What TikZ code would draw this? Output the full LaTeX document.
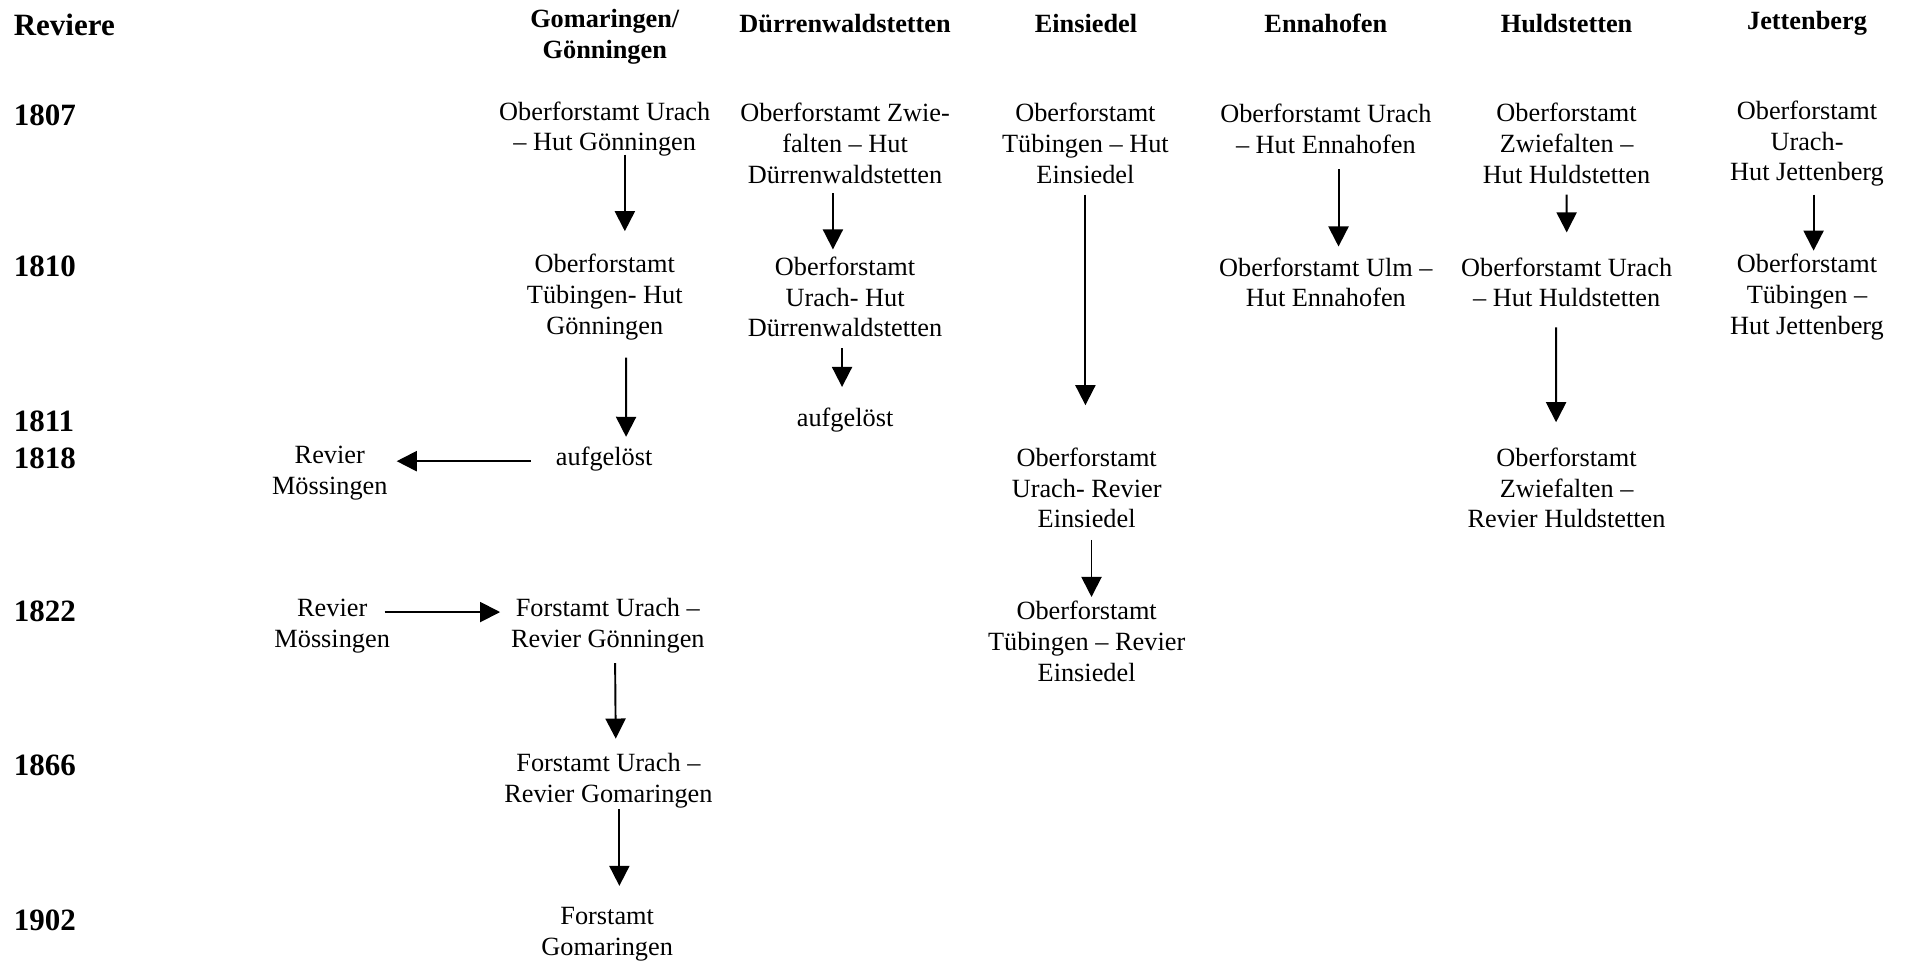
\documentclass[tikz,border=0pt]{standalone}
\usepackage{fontspec}
\setmainfont{Liberation Serif}
\usetikzlibrary{arrows.meta}

\begin{document}
\begin{tikzpicture}[x=0.2mm,y=-0.2mm,
  box/.style={align=center,inner sep=0pt,font=\fontsize{12.3}{14.4}\selectfont},
  head/.style={box,font=\fontsize{12.3}{14.4}\selectfont\bfseries},
  year/.style={anchor=west,inner sep=0pt,font=\fontsize{14.5}{17}\selectfont\bfseries},
  arr/.style={-{Triangle[length=3.3mm,width=3.3mm]},line width=0.9pt}]
\useasboundingbox (0,0) rectangle (1568,791);
% Header
\node[year] (hrev) at (11,20.5) {Reviere};
\node[head] (hgom) at (497,30) {Gomaringen/\\Gönningen};
\node[head] (hdue) at (694.5,19) {Dürrenwaldstetten};
\node[head] (hein) at (892.5,19) {Einsiedel};
\node[head] (henn) at (1089.6,19) {Ennahofen};
\node[head] (hhul) at (1287.4,19) {Huldstetten};
\node[head] (hjet) at (1485,19) {Jettenberg};
% Years
\foreach \y/\yr in {94.5/1807, 219/1810, 346.5/1811, 377/1818, 502/1822, 629/1866, 756/1902} {
    \node[year] (y\yr) at (11,\y) {\yr};
}
% Gomaringen/Gönningen
\node[box] (g1) at (497,106) {Oberforstamt Urach\\– Hut Gönningen};
\node[box] (g2) at (497,244) {Oberforstamt\\Tübingen- Hut\\Gönningen};
\node[box] (g3) at (496.5,377) {aufgelöst};
\node[box] (m1) at (271,389) {Revier\\Mössingen};
\node[box] (m2) at (273,514.5) {Revier\\Mössingen};
\node[box] (g4) at (499.5,514.5) {Forstamt Urach –\\Revier Gönningen};
\node[box] (g5) at (500,641.5) {Forstamt Urach –\\Revier Gomaringen};
\node[box] (g6) at (499,768) {Forstamt\\Gomaringen};
% Dürrenwaldstetten
\node[box] (d1) at (694.5,118) {Oberforstamt Zwie-\\falten – Hut\\Dürrenwaldstetten};
\node[box] (d2) at (694.5,244) {Oberforstamt\\Urach- Hut\\Dürrenwaldstetten};
\node[box] (d3) at (694.5,345) {aufgelöst};
% Einsiedel
\node[box] (e1) at (892,118) {Oberforstamt\\Tübingen – Hut\\Einsiedel};
\node[box] (e2) at (893,401) {Oberforstamt\\Urach- Revier\\Einsiedel};
\node[box] (e3) at (893,527) {Oberforstamt\\Tübingen – Revier\\Einsiedel};
% Ennahofen
\node[box] (n1) at (1089.6,106) {Oberforstamt Urach\\– Hut Ennahofen};
\node[box] (n2) at (1089.6,232) {Oberforstamt Ulm –\\Hut Ennahofen};
% Huldstetten
\node[box] (h1) at (1287.4,118) {Oberforstamt\\Zwiefalten –\\Hut Huldstetten};
\node[box] (h2) at (1287.5,232) {Oberforstamt Urach\\– Hut Huldstetten};
\node[box] (h3) at (1287.4,401) {Oberforstamt\\Zwiefalten –\\Revier Huldstetten};
% Jettenberg
\node[box] (j1) at (1485,118) {Oberforstamt\\Urach-\\Hut Jettenberg};
\node[box] (j2) at (1485,244) {Oberforstamt\\Tübingen –\\Hut Jettenberg};
% Arrows
\draw[arr] ([shift={(16.5,21)}]g1.center) -- ([shift={(16.5,-54)}]g2.center);
\draw[arr] ([shift={(17.6,50)}]g2.center) -- ([shift={(18,-18)}]g3.center);
\draw[arr] ([shift={(-60.5,2)}]g3.center) -- ([shift={(55,-10)}]m1.center);
\draw[arr] ([shift={(43,-11.5)}]m2.center) -- ([shift={(-88.5,-11.5)}]g4.center);
\draw[arr] ([shift={(6,30.5)}]g4.center) -- ([shift={(6,-34.5)}]g5.center);
\draw[arr] ([shift={(9,23.5)}]g5.center) -- ([shift={(10,-40)}]g6.center);
\draw[arr] ([shift={(-10,41)}]d1.center) -- ([shift={(-10,-39)}]d2.center);
\draw[arr] ([shift={(-2.5,42)}]d2.center) -- ([shift={(-2.5,-27)}]d3.center);
\draw[arr] ([shift={(0,42)}]e1.center) -- ([shift={(-1,-68)}]e2.center);
\draw[arr] ([shift={(4,42.6)}]e2.center) -- ([shift={(4,-36.4)}]e3.center);
\draw[arr] ([shift={(10.4,33)}]n1.center) -- ([shift={(10.4,-29.4)}]n2.center);
\draw[arr] ([shift={(0,42)}]h1.center) -- ([shift={(0,-41)}]h2.center);
\draw[arr] ([shift={(-8.7,37)}]h2.center) -- ([shift={(-8.6,-54)}]h3.center);
\draw[arr] ([shift={(5.4,42)}]j1.center) -- ([shift={(5.4,-38)}]j2.center);
\end{tikzpicture}
\end{document}
